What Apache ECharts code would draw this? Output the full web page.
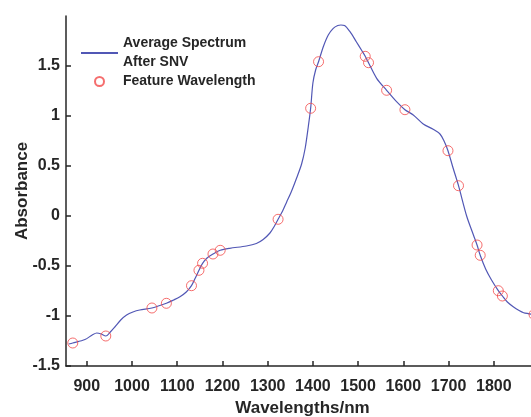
<!DOCTYPE html>
<html>
<head>
<meta charset="utf-8">
<script src="https://cdn.jsdelivr.net/npm/echarts@6/dist/echarts.min.js"></script>
<style>html,body{margin:0;padding:0;background:#fff;}#c{width:531px;height:417px;}</style>
</head>
<body>
<div id="c"></div>
<script>
// Average spectrum after SNV (wavelength nm, absorbance)
const wavelengths = [860,869,896,912,922,932,942,952,962,975,988,1002,1017,1044,1076,1092,1106,1120,1131.5,1140,1148,1156,1166,1179,1195,1216,1253,1275,1290,1305,1315,1323,1333,1342,1352,1364,1375,1383,1390,1395,1400,1406,1412.5,1423,1434,1445,1455,1462,1470,1482,1496,1508,1515.7,1523,1541,1563,1585,1603.5,1622,1644,1666,1681,1690,1698.7,1710,1722,1740,1755,1763,1770,1782,1795,1810,1819,1830,1843,1856,1866,1878,1890];
const absorbance = [-1.28,-1.27,-1.235,-1.19,-1.17,-1.18,-1.20,-1.16,-1.11,-1.04,-0.99,-0.96,-0.94,-0.92,-0.873,-0.84,-0.807,-0.76,-0.697,-0.62,-0.543,-0.473,-0.42,-0.38,-0.343,-0.323,-0.30,-0.275,-0.235,-0.17,-0.10,-0.033,0.05,0.14,0.24,0.38,0.52,0.68,0.90,1.077,1.33,1.46,1.543,1.693,1.81,1.877,1.905,1.91,1.905,1.843,1.743,1.655,1.597,1.533,1.377,1.257,1.143,1.063,1.01,0.92,0.867,0.82,0.75,0.653,0.48,0.303,0.0,-0.19,-0.29,-0.393,-0.53,-0.64,-0.747,-0.80,-0.86,-0.907,-0.945,-0.967,-0.978,-0.99];
// Feature wavelengths
const featureWl = [869,942,1044,1076,1131.5,1148,1156,1179,1195,1323,1395,1412.5,1515.7,1523,1563,1603.5,1698.7,1722,1763,1770,1810,1819,1889];
const featureAbs = [-1.27,-1.20,-0.92,-0.873,-0.697,-0.543,-0.473,-0.38,-0.343,-0.033,1.077,1.543,1.597,1.533,1.257,1.063,0.653,0.303,-0.29,-0.393,-0.747,-0.80,-0.985];
const xTicks = [900,1000,1100,1200,1300,1400,1500,1600,1700,1800];
const yTicks = [-1.5,-1,-0.5,0,0.5,1,1.5];

const spectrum = wavelengths.map((w,i)=>[w,absorbance[i]]);
const features = featureWl.map((w,i)=>[w,featureAbs[i]]);
const ink = '#262626';
const lineColor = '#5157b5';
const markColor = '#f24a4a';
const font = 'Liberation Sans, Arial, sans-serif';

const chart = echarts.init(document.getElementById('c'), null, {renderer:'canvas'});
chart.setOption({
  animation:false,
  backgroundColor:'#fff',
  grid:{left:66, right:-8, top:16, bottom:51, containLabel:false, outerBoundsMode:'none'},
  legend:{
    show:true, orient:'vertical', left:80, top:34, padding:0, itemWidth:37, itemHeight:9, itemGap:0,
    textStyle:{fontFamily:font, fontWeight:'bold', fontSize:14, color:ink, lineHeight:19},
    data:[
      {name:'Average Spectrum\nAfter SNV', itemStyle:{color:'rgba(0,0,0,0)', borderWidth:0, opacity:0}},
      {name:'Feature Wavelength'}
    ]
  },
  xAxis:{
    type:'value', min:854, max:1900,
    name:'Wavelengths/nm', nameLocation:'middle', nameGap:32,
    nameTextStyle:{fontFamily:font, fontWeight:'bold', fontSize:17, color:ink},
    axisLine:{show:true, onZero:false, lineStyle:{color:ink, width:1.5}},
    axisTick:{show:true, inside:true, length:5, customValues:xTicks, lineStyle:{color:ink, width:1.5}},
    axisLabel:{customValues:xTicks, formatter:(v)=>String(v), margin:13, fontFamily:font, fontWeight:'bold', fontSize:16, color:ink},
    splitLine:{show:false}
  },
  yAxis:{
    type:'value', min:-1.5, max:2, interval:0.5,
    name:'Absorbance', nameLocation:'middle', nameGap:35, nameRotate:90, nameMoveOverlap:false,
    nameTextStyle:{fontFamily:font, fontWeight:'bold', fontSize:17, color:ink},
    axisLine:{show:true, onZero:false, lineStyle:{color:ink, width:1.5}},
    axisTick:{show:true, inside:true, length:5, customValues:yTicks, lineStyle:{color:ink, width:1.5}},
    axisLabel:{customValues:yTicks, formatter:(v)=>String(v), margin:6, fontFamily:font, fontWeight:'bold', fontSize:16, color:ink},
    splitLine:{show:false}
  },
  series:[
    {name:'Average Spectrum\nAfter SNV', type:'line', data:spectrum, smooth:0.3, symbol:'none', showSymbol:false,
     lineStyle:{color:lineColor, width:1.2}, itemStyle:{color:lineColor}, z:2},
    {name:'Feature Wavelength', type:'scatter', data:features, symbol:'circle', symbolSize:10,
     itemStyle:{color:'rgba(255,255,255,0)', borderColor:markColor, borderWidth:1}, z:3}
  ]
});
</script>
</body>
</html>
